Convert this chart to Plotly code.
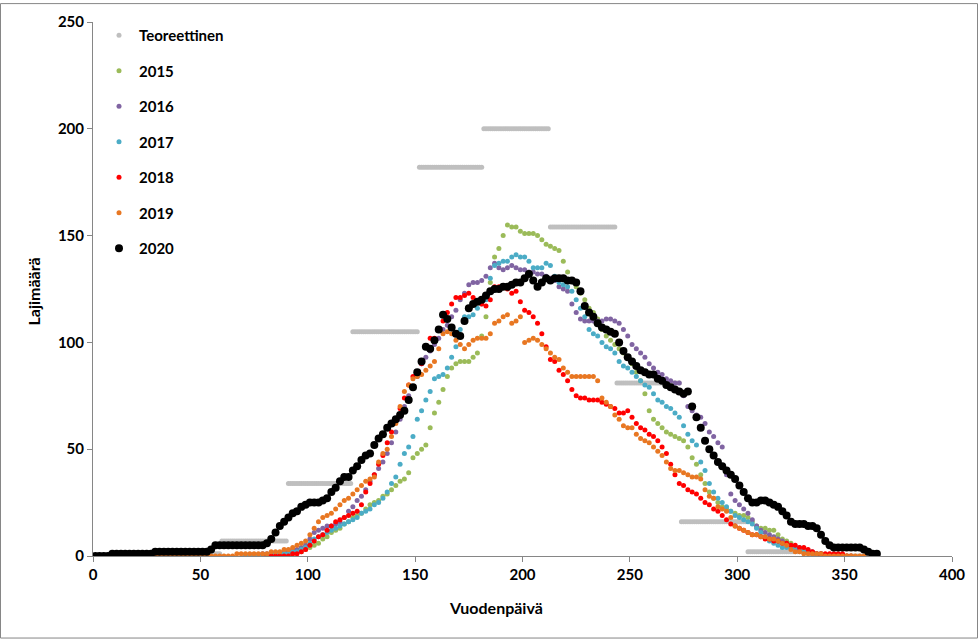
import plotly.graph_objects as go

# ---------------- data ----------------
teor_month_start = [1, 32, 60, 91, 121, 152, 182, 213, 244, 274, 305, 335]
teor_month_end = [31, 59, 90, 120, 151, 181, 212, 243, 273, 304, 334, 365]
teor_values = [0, 1, 7, 34, 105, 182, 200, 154, 81, 16, 2, 0]

start_2015 = 81
v2015 = [0, 0, 0, 0, 1, 1, 1, 2, 2, 3,
         4, 5, 6, 8, 9, 11, 12, 13, 15, 16,
         18, 19, 20, 22, 24, 25, 26, 28, 29, 31,
         33, 35, 36, 39, 46, 48, 50, 52, 60, 67,
         72, 78, 84, 88, 90, 91, 91, 91, 93, 95,
         103, 112, 128, 140, 144, 150, 155, 154, 154, 152,
         151, 151, 151, 150, 148, 146, 145, 144, 143, 138,
         133, 129, 126, 123, 120, 116, 114, 111, 106, 103,
         101, 99, 97, 95, 93, 90, 86, 82, 76, 68,
         64, 62, 60, 58, 57, 56, 55, 54, 51, 46,
         43, 38, 34, 30, 27, 25, 23, 22, 21, 20,
         19, 19, 18, 16, 14, 13, 13, 12, 12, 10,
         8, 7, 6, 4, 3, 2, 2, 1, 1, 1,
         0, 0, 0, 0, 0, 0, 0]

start_2016 = 71
v2016 = [0, 0, 0, 0, 1, 1, 1, 1, 1, 2,
         2, 3, 3, 4, 5, 8, 11, 12, 13, 14,
         14, 15, 16, 18, 21, 23, 26, 28, 31, 35,
         38, 41, 44, 48, 53, 58, 64, 70, 75, 79,
         84, 90, 93, 96, 99, 102, 106, 108, 112, 115,
         120, 123, 127, 128, 128, 129, 131, 135, 137, 135,
         134, 135, 136, 135, 134, 134, 133, 133, 132, 132,
         131, 130, 129, 126, 125, 124, 118, 114, 111, 110,
         110, 110, 110, 110, 111, 111, 110, 109, 106, 103,
         99, 97, 95, 93, 90, 88, 86, 85, 83, 82,
         81, 81, 75, 70, 68, 66, 65, 62, 58, 56,
         53, 51, 38, 29, 26, 24, 22, 20, 17, 14,
         12, 11, 10, 9, 8, 7, 6, 5, 4, 3,
         3, 2, 2, 1, 1, 0, 0, 0]

start_2017 = 71
v2017 = [0, 0, 0, 0, 0, 0, 1, 1, 1, 1,
         1, 2, 2, 3, 4, 6, 8, 9, 10, 11,
         12, 13, 14, 15, 16, 17, 18, 20, 21, 22,
         24, 25, 27, 30, 34, 37, 43, 48, 51, 56,
         64, 68, 73, 77, 83, 84, 85, 88, 93, 98,
         106, 112, 112, 113, 116, 118, 120, 130, 136, 137,
         138, 138, 140, 141, 140, 140, 138, 135, 135, 135,
         137, 136, 131, 128, 127, 126, 124, 120, 116, 112,
         106, 104, 103, 100, 98, 97, 95, 91, 89, 88,
         86, 84, 82, 80, 79, 76, 73, 72, 70, 69,
         67, 65, 61, 57, 54, 52, 44, 40, 34, 30,
         27, 25, 23, 21, 19, 18, 17, 16, 15, 13,
         11, 9, 7, 6, 5, 4, 4, 4, 4, 4,
         3, 2, 1, 1, 0, 0, 0, 0]

start_2018 = 81
v2018 = [0, 0, 0, 0, 0, 0, 1, 1, 2, 3,
         5, 7, 9, 10, 12, 14, 16, 17, 18, 19,
         20, 21, 24, 30, 34, 38, 43, 47, 53, 58,
         64, 69, 74, 80, 84, 86, 90, 98, 102, 102,
         106, 110, 114, 118, 121, 121, 122, 123, 121, 119,
         118, 117, 120, 126, 126, 126, 125, 123, 124, 119,
         115, 114, 112, 109, 104, 98, 92, 91, 87, 85,
         82, 78, 75, 74, 74, 73, 73, 73, 72, 71,
         70, 69, 67, 67, 68, 65, 62, 60, 59, 57,
         56, 54, 51, 48, 43, 38, 34, 33, 31, 30,
         29, 27, 25, 24, 22, 21, 19, 17, 15, 14,
         13, 12, 11, 10, 10, 9, 8, 8, 7, 7,
         6, 6, 5, 5, 4, 4, 3, 2, 1, 1,
         1, 1, 1, 1, 1, 0, 0]

start_2019 = 29
v2019 = [0, 0, 0, 0, 0, 0, 0, 0, 0, 0,
         0, 0, 0, 0, 0, 0, 0, 0, 0, 1,
         1, 1, 1, 1, 1, 1,
         1, 2, 2, 2, 3, 3, 4, 5, 6, 7,
         10, 13, 16, 18, 19, 20, 22, 24, 26, 27,
         29, 31, 33, 35, 36, 37, 44, 48, 50, 56,
         62, 70, 77, 80, 83, 84, 85, 87, 89, 91,
         97, 104, 105, 104, 101, 99, 97, 99, 101, 102,
         102, 102, 104, 109, 110, 112, 113, 109, 110, 112,
         100, 101, 102, 101, 99, 97, 95, 93, 92, 88,
         86, 84, 84, 84, 84, 84, 84, 82, 74, 72,
         70, 66, 64, 61, 60, 60, 57, 55, 54, 53,
         51, 49, 47, 44, 41, 40, 40, 39, 38, 37,
         37, 36, 31, 28, 27, 23, 22, 21, 18, 14,
         13, 12, 11, 10, 10, 9, 9, 8, 8, 7,
         6, 5, 3, 2, 2, 1, 1, 1, 1, 1,
         0, 0, 0, 0, 0, 0, 0, 0, 0, 0]

start_2020 = 1
v2020 = [0, 0, 0, 0, 1, 1, 1, 1, 1, 1,
         1, 1, 1, 1, 2, 2, 2, 2, 2, 2,
         2, 2, 2, 2, 2, 2, 2, 3, 5, 5,
         5, 5, 5, 5, 5, 5, 5, 5, 5, 5,
         6, 8, 11, 14, 16, 18, 20, 21, 23, 24,
         25, 25, 25, 26, 27, 30, 32, 35, 37, 37,
         40, 42, 45, 47, 48, 52, 55, 57, 60, 62,
         64, 66, 68, 73, 79, 86, 91, 98, 97, 101,
         106, 113, 111, 107, 104, 103, 110, 116, 118, 119,
         120, 122, 124, 125, 125, 126, 126, 127, 128, 128,
         130, 132, 129, 126, 128, 130, 129, 130, 130, 130,
         129, 129, 128, 124, 117, 114, 112, 109, 107, 106,
         105, 104, 100, 96, 93, 91, 89, 87, 86, 85,
         85, 83, 82, 80, 79, 78, 77, 76, 77, 70,
         65, 60, 54, 50, 47, 44, 42, 40, 38, 36,
         33, 30, 27, 25, 25, 26, 26, 25, 24, 23,
         21, 19, 16, 15, 15, 15, 14, 14, 13, 10,
         7, 5, 4, 4, 4, 4, 4, 4, 4, 3,
         2, 1, 1]

series = [
    ("2015", start_2015, v2015, "#9BBB59", 5),
    ("2016", start_2016, v2016, "#8064A2", 5),
    ("2017", start_2017, v2017, "#4BACC6", 5),
    ("2018", start_2018, v2018, "#FF0000", 5),
    ("2019", start_2019, v2019, "#E87722", 5),
    ("2020", start_2020, v2020, "#000000", 8),
]

# ---------------- figure ----------------
FONT = "Lato"
fig = go.Figure()

teor_x, teor_y = [], []
for s, e, v in zip(teor_month_start, teor_month_end, teor_values):
    for d in range(s, e + 1):
        teor_x.append(d)
        teor_y.append(v)
fig.add_trace(go.Scatter(
    x=teor_x, y=teor_y, mode="markers", name="Teoreettinen",
    legendgroup="t", marker=dict(color="#BFBFBF", size=5, line=dict(width=0)),
))

for name, start, vals, color, size in series:
    days = [start + 2 * i for i in range(len(vals))]
    fig.add_trace(go.Scatter(
        x=days, y=vals, mode="markers", name=name, legendgroup=name,
        marker=dict(color=color, size=size, line=dict(width=0)),
    ))

W, H = 978, 639
L, R, T, B = 93, 26, 19, 83
pw, ph = W - L - R, H - T - B

fig.update_layout(
    width=W, height=H,
    margin=dict(l=L, r=R, t=T, b=B),
    paper_bgcolor="white", plot_bgcolor="white",
    font=dict(family=FONT, color="black", size=15),
    showlegend=True,
    legend=dict(
        x=(99 - L) / pw, y=(H - B - 16) / ph, xanchor="left", yanchor="top",
        bgcolor="rgba(0,0,0,0)", tracegroupgap=13,
        font=dict(family=FONT, size=15, weight="bold", color="black"),
        itemsizing="trace",
    ),
    xaxis=dict(
        range=[0, 400], dtick=50, tick0=0, showgrid=False, zeroline=False,
        showline=True, linecolor="#868686", linewidth=1,
        ticks="outside", ticklen=5, tickcolor="#868686",
        tickfont=dict(family=FONT, size=15, weight="bold", color="black"),
    ),
    yaxis=dict(
        range=[0, 250], dtick=50, tick0=0, showgrid=False, zeroline=False,
        showline=True, linecolor="#868686", linewidth=1,
        ticks="outside", ticklen=5, tickcolor="#868686",
        tickfont=dict(family=FONT, size=15, weight="bold", color="black"),
    ),
    annotations=[
        dict(text="Vuodenpäivä", xref="paper", yref="paper",
             x=(496 - L) / pw, y=(H - B - 608) / ph, showarrow=False,
             xanchor="center", yanchor="middle",
             font=dict(family=FONT, size=16, weight="bold", color="black")),
        dict(text="Lajimäärä", xref="paper", yref="paper",
             x=(33 - L) / pw, y=(H - B - 290) / ph, showarrow=False,
             textangle=-90, xanchor="center", yanchor="middle",
             font=dict(family=FONT, size=16, weight="bold", color="black")),
    ],
    shapes=[
        dict(type="rect", xref="paper", yref="paper",
             x0=(0.5 - L) / pw, x1=(W - 0.5 - L) / pw,
             y0=(H - B - (H - 0.5)) / ph, y1=(H - B - 0.5) / ph,
             line=dict(color="#868686", width=1), fillcolor="rgba(0,0,0,0)",
             layer="below"),
    ],
)

fig.write_html("out.html", config={"displayModeBar": False},
               post_script="document.body.style.margin='0';document.body.style.overflow='hidden';")
